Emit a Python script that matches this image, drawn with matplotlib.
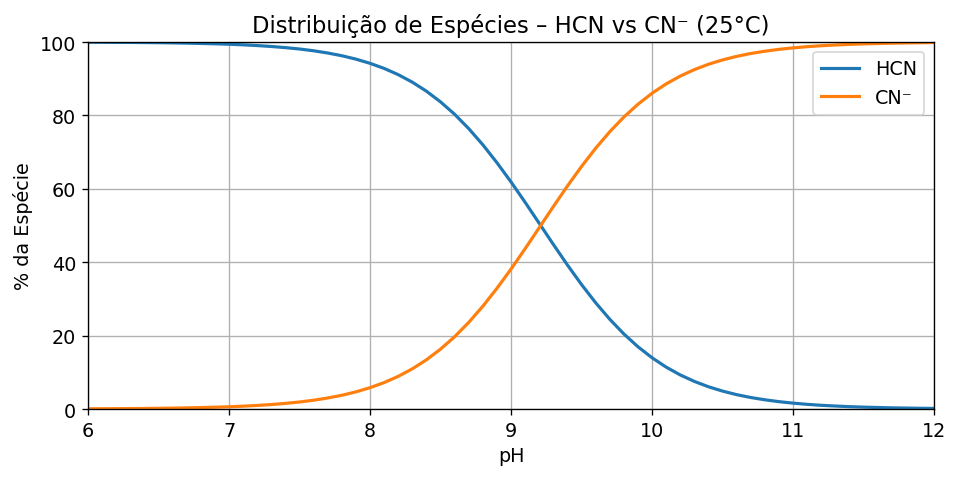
import matplotlib
matplotlib.use("Agg")
import matplotlib.pyplot as plt

ph = [6.0, 6.1, 6.2, 6.3, 6.4, 6.5, 6.6, 6.7, 6.8, 6.9,
      7.0, 7.1, 7.2, 7.3, 7.4, 7.5, 7.6, 7.7, 7.8, 7.9,
      8.0, 8.1, 8.2, 8.3, 8.4, 8.5, 8.6, 8.7, 8.8, 8.9,
      9.0, 9.1, 9.2, 9.3, 9.4, 9.5, 9.6, 9.7, 9.8, 9.9,
      10.0, 10.1, 10.2, 10.3, 10.4, 10.5, 10.6, 10.7, 10.8, 10.9,
      11.0, 11.1, 11.2, 11.3, 11.4, 11.5, 11.6, 11.7, 11.8, 11.9, 12.0]

hcn = [99.94, 99.92, 99.90, 99.88, 99.85, 99.81, 99.76, 99.69, 99.61, 99.51,
       99.39, 99.23, 99.03, 98.78, 98.47, 98.09, 97.61, 97.00, 96.26, 95.33,
       94.19, 92.80, 91.10, 89.05, 86.59, 83.68, 80.30, 76.39, 71.99, 67.11,
       61.86, 56.31, 50.58, 44.84, 39.23, 33.90, 28.95, 24.45, 20.45, 16.96,
       13.96, 11.41, 9.28, 7.52, 6.06, 4.88, 3.91, 3.13, 2.51, 2.00,
       1.60, 1.27, 1.01, 0.81, 0.64, 0.51, 0.41, 0.32, 0.26, 0.20, 0.16]

cn = [0.06, 0.08, 0.10, 0.12, 0.15, 0.19, 0.24, 0.31, 0.39, 0.49,
      0.61, 0.77, 0.97, 1.22, 1.53, 1.91, 2.39, 3.00, 3.74, 4.67,
      5.81, 7.20, 8.90, 10.95, 13.41, 16.32, 19.70, 23.61, 28.01, 32.89,
      38.14, 43.69, 49.42, 55.16, 60.77, 66.10, 71.05, 75.55, 79.55, 83.04,
      86.04, 88.59, 90.72, 92.48, 93.94, 95.12, 96.09, 96.87, 97.49, 98.00,
      98.40, 98.73, 98.99, 99.19, 99.36, 99.49, 99.59, 99.68, 99.74, 99.80, 99.84]

labels = ["HCN", "CN\u207b"]
title = "Distribuição de Espécies \u2013 HCN vs CN\u207b (25°C)"

plt.rcParams.update({
    "font.size": 11.5,
    "axes.titlesize": 13.6,
    "axes.labelsize": 11.5,
    "xtick.labelsize": 11.5,
    "ytick.labelsize": 11.5,
    "legend.fontsize": 11.5,
})

fig, ax = plt.subplots(figsize=(8, 4.0083), dpi=120)
fig.subplots_adjust(left=0.0917, right=0.973, top=0.9106, bottom=0.1476)

ax.plot(ph, hcn, color="#1f77b4", lw=1.9, label=labels[0])
ax.plot(ph, cn, color="#ff7f0e", lw=1.9, label=labels[1])

ax.set_xlim(6, 12)
ax.set_ylim(0, 100)
ax.set_xlabel("pH")
ax.set_ylabel("% da Espécie")
ax.set_title(title)
ax.grid(True)
ax.legend(loc="upper right")

fig.savefig("out.png", dpi=120)
